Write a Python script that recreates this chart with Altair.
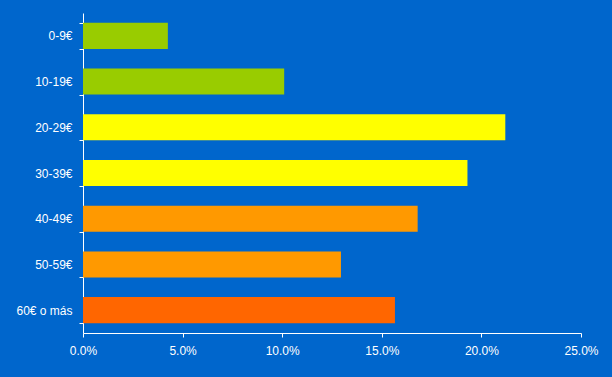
import altair as alt
import pandas as pd

categories = ["0-9€", "10-19€", "20-29€", "30-39€", "40-49€", "50-59€", "60€ o más"]
values = [0.0426, 0.101, 0.212, 0.193, 0.168, 0.1295, 0.1566]
colors = ["#99CC00", "#99CC00", "#FFFF00", "#FFFF00", "#FF9900", "#FF9900", "#FF6600"]

df = pd.DataFrame({"cat": categories, "val": values, "color": colors})

chart = alt.Chart(df).mark_bar().encode(
    y=alt.Y("cat:N", sort=categories, title=None,
            scale=alt.Scale(paddingInner=0.43, paddingOuter=0.215),
            axis=alt.Axis(tickBand="extent", tickSize=4, labelPadding=7,
                          domainColor="white", tickColor="white",
                          labelColor="white", labelFont="Liberation Sans",
                          labelFontSize=12, grid=False)),
    x=alt.X("val:Q", title=None,
            scale=alt.Scale(domain=[0, 0.25], nice=False),
            axis=alt.Axis(format=".1%", values=[0, 0.05, 0.10, 0.15, 0.20, 0.25],
                          tickSize=4, labelPadding=8,
                          domainColor="white", tickColor="white",
                          labelColor="white", labelFont="Liberation Sans",
                          labelFontSize=12, grid=False, labelFlush=False)),
    color=alt.Color("color:N", scale=None),
).properties(
    width=498, height=320,
    background="#0066CC",
    padding={"left": 83, "top": 13, "right": 31, "bottom": 44},
    autosize=alt.AutoSizeParams(type="none"),
).configure_view(stroke=None)

chart.save("out.html", embed_options={"renderer": "svg", "actions": False})
